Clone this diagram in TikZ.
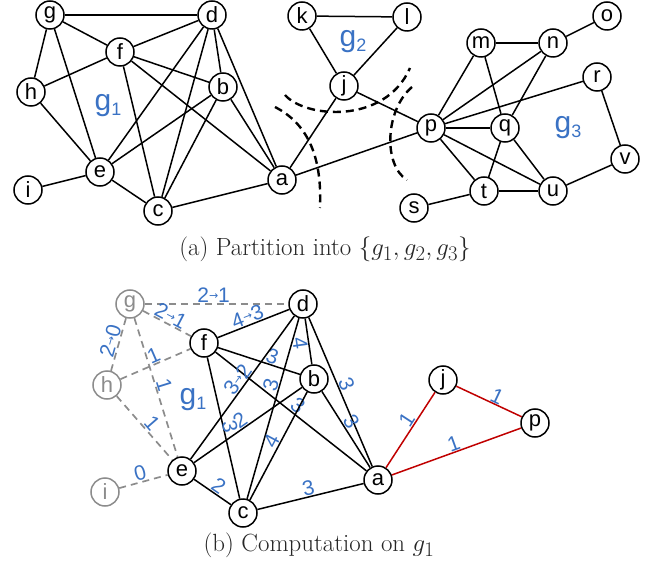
\documentclass[tikz,border=0pt]{standalone}
\usepackage{fontspec}
\newfontfamily\arialf{Liberation Sans}
\newfontfamily\djv{DejaVu Sans}
\definecolor{lblue}{HTML}{3A72C4}
\definecolor{redc}{HTML}{C00000}
\definecolor{gnode}{HTML}{8C8C8C}
\newcommand\toar{\raisebox{0.3ex}{\djv\fontsize{11}{11}\selectfont →}}
\newcommand\gsub[1]{g\raisebox{-0.3ex}{\fontsize{18}{18}\selectfont #1}}
\tikzset{
 vtx/.style={circle, draw, line width=1.5pt, minimum size=28pt, inner sep=0pt, fill=white,
   font=\arialf\fontsize{22}{22}\selectfont},
 gvtx/.style={vtx, draw=gnode, text=gnode},
 edge/.style={line width=1.5pt},
 gedge/.style={line width=1.7pt, gnode, dash pattern=on 7pt off 5pt},
 redge/.style={line width=1.5pt, redc},
 cut/.style={line width=2.4pt, dash pattern=on 8pt off 5pt},
 wl/.style={sloped, above, inner sep=0.5pt, text=lblue, font=\arialf\fontsize{21}{21}\selectfont},
 wlb/.style={wl, below},
 glab/.style={text=lblue, font=\arialf\fontsize{30}{30}\selectfont},
 capt/.style={text=black!85, font=\fontsize{24.88}{30}\selectfont},
}
\begin{document}
\begin{tikzpicture}[x=1pt,y=-1pt]
\useasboundingbox (0,0) rectangle (650,569);
% ---------- top graph ----------
\node[vtx] (g) at (50,15) {g};
\node[vtx] (d) at (212,15) {d};
\node[vtx] (f) at (120,52) {f};
\node[vtx] (h) at (31,92) {h};
\node[vtx] (b) at (223,87) {b};
\node[vtx] (e) at (100,172) {e};
\node[vtx] (i) at (28,190) {i};
\node[vtx] (c) at (158,211) {c};
\node[vtx] (a) at (282,180) {a};
\node[vtx] (k) at (302,16) {k};
\node[vtx] (l) at (407,17) {l};
\node[vtx] (j) at (344,86) {j};
\node[vtx] (m) at (481,43) {m};
\node[vtx] (n) at (553,43) {n};
\node[vtx] (o) at (607,16) {o};
\node[vtx] (r) at (597,77) {r};
\node[vtx] (p) at (431,128) {p};
\node[vtx] (q) at (505,128) {q};
\node[vtx] (v) at (625,159) {v};
\node[vtx] (t) at (484,191) {t};
\node[vtx] (u) at (553,191) {u};
\node[vtx] (s) at (414,208) {s};
\foreach \x/\y in {g/d,g/f,g/h,g/e,f/d,f/h,f/b,f/c,f/a,d/b,d/e,d/c,d/a,b/e,b/c,b/a,h/e,e/i,e/c,c/a,a/j,a/p,
  k/l,k/j,l/j,j/p,p/m,p/n,p/r,p/q,p/t,p/u,m/n,m/q,n/q,n/o,q/t,q/u,t/u,t/s,u/v,r/v}
  \draw[edge] (\x) -- (\y);
\node[glab] (G1) at (108,106) {\gsub{1}};
\node[glab] (G2) at (353,42) {\gsub{2}};
\node[glab] (G3) at (568,128) {\gsub{3}};
\draw[cut] (285,95) .. controls (305,118) and (385,125) .. (410,68);
\draw[cut] (275,107) .. controls (310,125) and (322,160) .. (320,208);
\draw[cut] (412,87) .. controls (385,110) and (383,165) .. (407,180);
\node[capt] (capa) at (325,249) {(a) Partition into $\{g_1,g_2,g_3\}$};
% ---------- bottom graph ----------
\node[gvtx] (Bg) at (130,304) {g};
\node[vtx] (Bd) at (303,304) {d};
\node[vtx] (Bf) at (204,343) {f};
\node[gvtx] (Bh) at (107,385) {h};
\node[vtx] (Bb) at (314,379) {b};
\node[vtx] (Be) at (182,471) {e};
\node[gvtx] (Bi) at (105,492) {i};
\node[vtx] (Bc) at (243,513) {c};
\node[vtx] (Ba) at (378,480) {a};
\node[vtx] (Bj) at (443,380) {j};
\node[vtx] (Bp) at (535,423) {p};
\node[glab] (BG1) at (193,400) {\gsub{1}};
\draw[gedge] (Bg) -- node[wl,pos=0.48]{2\toar1} (Bd);
\draw[gedge] (Bg) -- node[wl,pos=0.5]{2\toar1} (Bf);
\draw[gedge] (Bg) -- node[wl,pos=0.48]{2\toar0} (Bh);
\draw[gedge] (Bh) -- node[wl,pos=0.52]{1} (Bf);
\draw[gedge] (Bg) -- node[wl,pos=0.5]{1} (Be);
\draw[gedge] (Bh) -- node[wl,pos=0.52]{1} (Be);
\draw[gedge] (Bi) -- node[wl,pos=0.48]{0} (Be);
\draw[edge] (Bf) -- node[wl,pos=0.46]{4\toar3} (Bd);
\draw[edge] (Bf) -- node[wl,pos=0.63]{3} (Bb);
\draw[edge] (Bf) -- node[wl,pos=0.5,above=-2pt]{3} (Bc);
\draw[edge] (Bf) -- node[wl,pos=0.51]{3} (Ba);
\draw[edge] (Bd) -- node[wlb,pos=0.5]{4} (Bb);
\draw[edge] (Bd) -- node[wl,pos=0.48]{3\toar2} (Be);
\draw[edge] (Bd) -- node[wl,pos=0.38]{3} (Bc);
\draw[edge] (Bd) -- node[wl,pos=0.47]{3} (Ba);
\draw[edge] (Bb) -- node[wl,pos=0.53]{2} (Be);
\draw[edge] (Bb) -- node[wl,pos=0.49]{4} (Bc);
\draw[edge] (Bb) -- node[wl,pos=0.46]{3} (Ba);
\draw[edge] (Be) -- node[wl,pos=0.54]{2} (Bc);
\draw[edge] (Bc) -- node[wl,pos=0.5]{3} (Ba);
\draw[redge] (Ba) -- node[wl,pos=0.57]{1} (Bj);
\draw[redge] (Bj) -- node[wl,pos=0.57]{1} (Bp);
\draw[redge] (Ba) -- node[wl,pos=0.5]{1} (Bp);
\node[capt] (capb) at (319,545) {(b) Computation on $g_1$};
\end{tikzpicture}
\end{document}
